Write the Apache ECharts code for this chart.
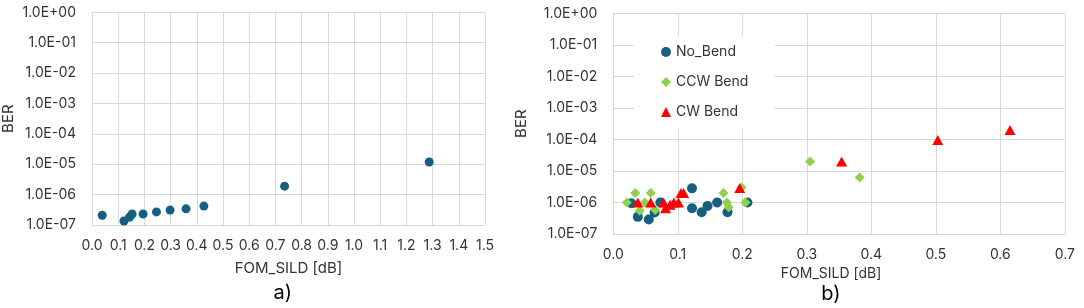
<!DOCTYPE html>
<html>
<head>
<meta charset="utf-8">
<script src="https://cdn.jsdelivr.net/npm/echarts@6/dist/echarts.min.js"></script>
<style>
html,body{margin:0;padding:0;background:#fff;}
#chart{width:1084px;height:308px;}
</style>
</head>
<body>
<div id="chart"></div>
<script>
// ---- data (panel a) ----
const aSild = [0.039, 0.122, 0.143, 0.153, 0.195, 0.246, 0.298, 0.359, 0.427, 0.735, 1.287];
const aBer  = [2.1e-7, 1.35e-7, 1.8e-7, 2.3e-7, 2.3e-7, 2.7e-7, 3.1e-7, 3.4e-7, 4.2e-7, 1.9e-6, 1.18e-5];

// ---- data (panel b) ----
const noBendSild = [0.028, 0.038, 0.055, 0.064, 0.073, 0.122, 0.122, 0.137, 0.146, 0.161, 0.177, 0.208];
const noBendBer  = [9.5e-7, 3.5e-7, 2.9e-7, 4.8e-7, 1e-6, 2.8e-6, 6.6e-7, 4.9e-7, 7.7e-7, 1e-6, 4.9e-7, 1e-6];
const ccwSild = [0.021, 0.034, 0.041, 0.049, 0.058, 0.065, 0.171, 0.176, 0.179, 0.199, 0.205, 0.305, 0.382];
const ccwBer  = [1e-6, 2e-6, 5.5e-7, 1e-6, 2e-6, 5.8e-7, 2e-6, 1e-6, 7e-7, 3e-6, 1e-6, 2e-5, 6.2e-6];
const cwSild = [0.038, 0.058, 0.078, 0.081, 0.088, 0.094, 0.101, 0.105, 0.109, 0.196, 0.354, 0.503, 0.615];
const cwBer  = [1e-6, 1e-6, 1e-6, 6.6e-7, 8.5e-7, 1e-6, 1e-6, 2e-6, 2e-6, 2.9e-6, 2e-5, 9.5e-5, 2e-4];

// ---- axis ranges / labels ----
const berMin = 1e-7, berMax = 1;
const aSildMax = 1.5, bSildMax = 0.7, sildStep = 0.1;
const seriesNames = ['No_Bend', 'CCW Bend', 'CW Bend'];
const xTitle = 'FOM_SILD [dB]';
const yTitle = 'BER';
const panelLabels = ['a)', 'b)'];

const zip = (xs, ys) => xs.map((x, i) => [x, ys[i]]);
const FONT = 'Inter';
const TXT = '#333333';
const GRID = '#d9d9d9';

function berLabel(v) {
  const e = Math.round(Math.log10(v));
  return '1.0E' + (e < 0 ? '-' : '+') + String(Math.abs(e)).padStart(2, '0');
}

function xAxisCfg(gridIndex, max, gap, size, pad) {
  return {
    type: 'value', gridIndex, min: 0, max, interval: sildStep,
    name: xTitle, nameLocation: 'middle', nameGap: gap,
    nameTextStyle: { fontFamily: FONT, fontSize: size, color: TXT, padding: pad },
    axisLine: { show: true, lineStyle: { color: GRID } },
    axisTick: { show: false },
    axisLabel: { fontFamily: FONT, fontSize: 14, color: TXT, margin: 14, formatter: v => v.toFixed(1) },
    splitLine: { show: true, lineStyle: { color: GRID, width: 1 } }
  };
}
function yAxisCfg(gridIndex, gap) {
  return {
    type: 'log', logBase: 10, gridIndex, min: berMin, max: berMax, interval: 1,
    name: yTitle, nameLocation: 'middle', nameGap: gap, nameRotate: 90,
    nameTextStyle: { fontFamily: FONT, fontSize: 15, color: TXT },
    axisLine: { show: true, lineStyle: { color: GRID } },
    axisTick: { show: false },
    axisLabel: { fontFamily: FONT, fontSize: 14, color: TXT, margin: 16, formatter: berLabel },
    splitLine: { show: true, lineStyle: { color: GRID, width: 1 } },
    minorSplitLine: { show: false }
  };
}

function panelText(txt, x, y) {
  return {
    type: 'text', x, y, z: 10,
    style: { text: txt, fontFamily: FONT, fontSize: 20, fill: '#000',
             align: 'center', verticalAlign: 'middle',
             textAlign: 'center', textVerticalAlign: 'middle' }
  };
}

const chart = echarts.init(document.getElementById('chart'), null, { renderer: 'canvas' });
chart.setOption({
  animation: false,
  backgroundColor: '#ffffff',
  grid: [
    { left: 90.7, top: 12.3, width: 394.3, height: 212.7 },
    { left: 613.3, top: 13.3, width: 451.5, height: 220.7 }
  ],
  xAxis: [
    xAxisCfg(0, aSildMax, 36, 15, [0, 0, 0, 0]),
    xAxisCfg(1, bSildMax, 24, 14, [0, 16, 0, 0])
  ],
  yAxis: [ yAxisCfg(0, 76), yAxisCfg(1, 84) ],
  legend: {
    data: seriesNames, orient: 'vertical', left: 634, top: 36,
    backgroundColor: '#ffffff',
    padding: [9, 26, 10, 27], itemGap: 16,
    itemWidth: 10, itemHeight: 10,
    textStyle: { fontFamily: FONT, fontSize: 14, color: TXT }
  },
  graphic: [
    panelText(panelLabels[0], 282.7, 293.3),
    panelText(panelLabels[1], 831, 294)
  ],
  series: [
    { type: 'scatter', name: 'a', xAxisIndex: 0, yAxisIndex: 0, data: zip(aSild, aBer),
      symbol: 'circle', symbolSize: 9, itemStyle: { color: '#156082', opacity: 1 } },
    { type: 'scatter', name: seriesNames[0], xAxisIndex: 1, yAxisIndex: 1, data: zip(noBendSild, noBendBer),
      symbol: 'circle', symbolSize: 10, itemStyle: { color: '#156082', opacity: 1 } },
    { type: 'scatter', name: seriesNames[1], xAxisIndex: 1, yAxisIndex: 1, data: zip(ccwSild, ccwBer),
      symbol: 'diamond', symbolSize: 10, itemStyle: { color: '#8ED14B', opacity: 1 } },
    { type: 'scatter', name: seriesNames[2], xAxisIndex: 1, yAxisIndex: 1, data: zip(cwSild, cwBer),
      symbol: 'triangle', symbolSize: [11, 10], itemStyle: { color: '#FF0000', opacity: 1 } }
  ]
});
</script>
</body>
</html>
